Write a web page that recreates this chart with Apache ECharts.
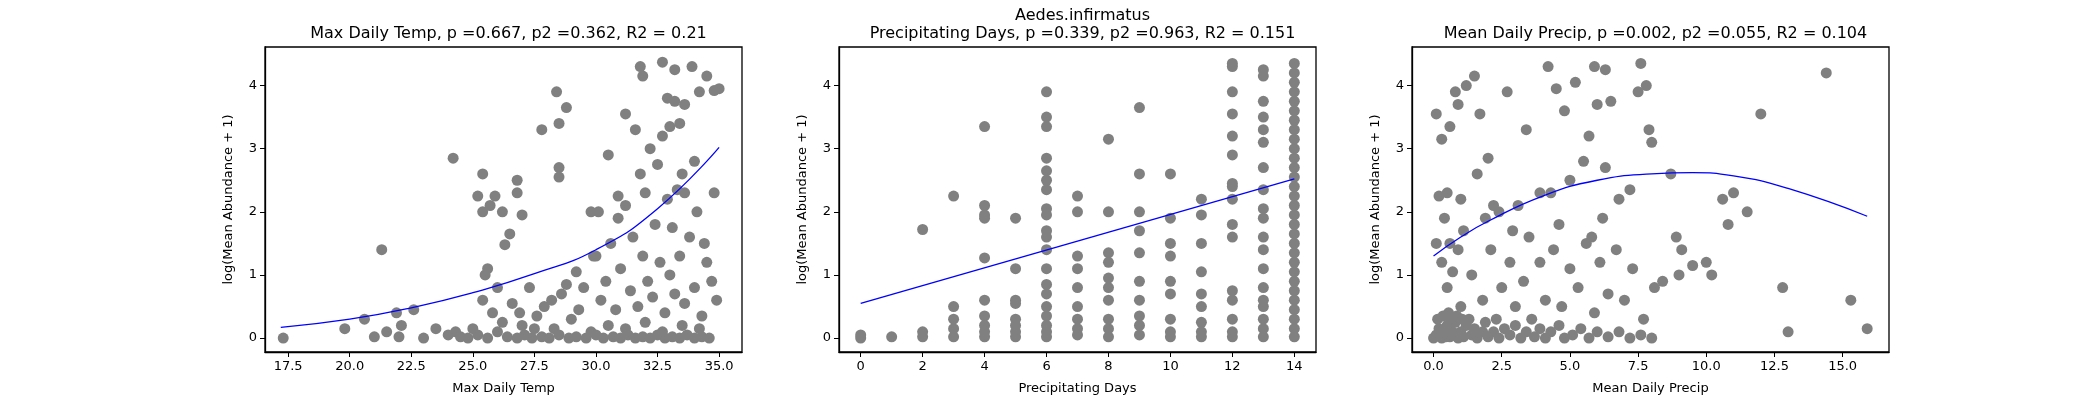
<!DOCTYPE html>
<html><head><meta charset="utf-8">
<script src="https://cdn.jsdelivr.net/npm/echarts@6/dist/echarts.min.js"></script>
<style>html,body{margin:0;padding:0;background:#fff}#c{width:2100px;height:400px}</style>
</head><body><div id="c"></div>
<script>
const suptitle = "Aedes.infirmatus";
const titles = ["Max Daily Temp, p =0.667, p2 =0.362, R2 = 0.21",
  "Precipitating Days, p =0.339, p2 =0.963, R2 = 0.151",
  "Mean Daily Precip, p =0.002, p2 =0.055, R2 = 0.104"];
const xNames = ["Max Daily Temp", "Precipitating Days", "Mean Daily Precip"];
const yName = "log(Mean Abundance + 1)";
const xTicks1 = [17.5, 20.0, 22.5, 25.0, 27.5, 30.0, 32.5, 35.0];
const xTicks2 = [0, 2, 4, 6, 8, 10, 12, 14];
const xTicks3 = [0.0, 2.5, 5.0, 7.5, 10.0, 12.5, 15.0];
const yTicks = [0, 1, 2, 3, 4];

const tempPoints = [[17.3,0],[19.8,0.15],[20.6,0.3],[21.5,0.1],[21.9,0.4],[22.1,0.2],[22.6,0.45],[23.5,0.15],[21.0,0.02],[22.0,0.02],[23.0,0],[24.0,0.05],[24.5,0.02],[24.8,0],[25.2,0.05],[25.6,0],[26.0,0.1],[26.4,0.02],[26.8,0],[27.1,0.05],[27.4,0],[27.8,0.02],[28.1,0],[28.5,0.05],[28.9,0],[29.2,0.02],[29.6,0],[30.0,0.05],[30.3,0],[30.7,0.02],[31.0,0],[31.3,0.05],[31.6,0],[31.9,0.02],[32.2,0],[32.5,0.05],[32.8,0],[33.1,0.02],[33.4,0],[33.7,0.05],[34.0,0],[34.3,0.02],[34.6,0],[25.0,0.15],[26.2,0.25],[27.0,0.2],[27.6,0.35],[28.3,0.15],[29.0,0.3],[29.8,0.1],[30.5,0.2],[31.2,0.15],[32.0,0.25],[32.7,0.1],[33.5,0.2],[34.2,0.15],[24.3,0.1],[25.8,0.4],[26.6,0.55],[27.3,0.8],[27.9,0.5],[28.6,0.7],[29.3,0.45],[25.4,0.6],[25.5,1.0],[25.6,1.1],[26.0,0.8],[26.9,0.4],[28.2,0.6],[28.8,0.85],[29.5,0.8],[30.2,0.6],[30.4,0.9],[30.8,0.45],[31.0,1.1],[31.4,0.75],[31.7,0.5],[31.9,1.3],[32.1,0.9],[32.3,0.65],[32.6,1.2],[32.8,0.4],[33.0,1.0],[33.2,0.7],[33.4,1.3],[33.6,0.55],[33.8,1.6],[34.0,0.8],[34.3,0.35],[34.5,1.2],[34.7,0.9],[31.5,1.6],[32.4,1.8],[33.1,1.75],[30.6,1.5],[29.9,1.3],[30.1,2.0],[31.2,2.1],[32.0,2.3],[32.9,2.2],[33.3,2.35],[33.6,2.3],[34.1,2.0],[34.4,1.5],[31.8,2.6],[32.5,2.75],[33.5,2.6],[34.0,2.8],[32.2,3.0],[32.7,3.2],[33.0,3.35],[33.4,3.4],[31.6,3.3],[32.9,3.8],[33.2,3.75],[33.6,3.7],[34.2,3.9],[35.0,3.95],[34.8,3.92],[31.8,4.3],[31.9,4.15],[32.7,4.37],[33.2,4.25],[33.9,4.3],[34.5,4.15],[31.2,3.55],[30.5,2.9],[25.2,2.25],[24.2,2.85],[25.4,2.6],[25.4,2.0],[25.7,2.1],[25.9,2.25],[26.2,2.0],[26.3,1.48],[26.5,1.65],[26.8,2.5],[27.0,1.95],[26.8,2.3],[27.8,3.3],[28.4,3.9],[28.5,3.4],[28.8,3.65],[28.5,2.7],[28.5,2.55],[29.8,2.0],[30.0,1.3],[30.9,2.25],[21.3,1.4],[27.5,0.15],[29.2,1.05],[30.9,1.9],[34.8,2.3],[34.9,0.6]];
const tempFit = [[17.2,0.17],[20,0.3],[22.5,0.48],[25,0.72],[27.5,1.02],[30,1.4],[32.5,2.05],[35,3.02]];

const daysColumns = {
 0:[0,0.05],1:[0.02],2:[1.72,0.1,0.02],3:[2.25,0.5,0.3,0.15,0.02],
 4:[3.35,2.1,1.95,1.9,1.27,0.6,0.35,0.2,0.1,0.02],
 5:[1.9,1.1,0.6,0.55,0.3,0.2,0.1,0.02],
 6:[3.9,3.5,3.35,2.85,2.65,2.5,2.35,2.05,1.95,1.7,1.6,1.4,1.1,0.85,0.7,0.5,0.35,0.2,0.1,0.02],
 7:[2.25,2.0,1.3,1.1,0.8,0.5,0.3,0.15,0.05],
 8:[3.15,2.0,1.35,1.2,0.95,0.8,0.6,0.3,0.15,0.02],
 9:[3.65,2.6,2.0,1.7,1.35,0.9,0.6,0.35,0.2,0.05],
 10:[2.6,1.9,1.5,1.3,0.9,0.7,0.3,0.1,0.02],
 11:[2.2,1.95,1.5,1.05,0.7,0.5,0.25,0.1,0.02],
 12:[4.35,4.3,3.9,3.55,3.2,2.9,2.45,2.4,2.2,1.8,1.6,0.75,0.6,0.3,0.1,0.02],
 13:[4.25,4.15,3.75,3.5,3.3,3.1,2.7,2.35,2.05,1.9,1.6,1.4,1.1,0.8,0.6,0.5,0.3,0.15,0.02],
 14:[4.35,4.2,4.05,3.9,3.75,3.6,3.45,3.3,3.15,3.0,2.85,2.7,2.55,2.4,2.25,2.1,1.95,1.8,1.65,1.5,1.35,1.2,1.05,0.9,0.75,0.6,0.45,0.3,0.15,0.02]
};
const daysFit = [[0,0.55],[14,2.52]];

const precipPoints = [[0.1,3.55],[0.3,3.15],[0.5,2.3],[0.2,2.25],[0.6,3.35],[0.8,3.9],[0.9,3.7],[1.0,2.2],[1.2,4.0],[1.5,4.15],[1.7,3.55],[1.6,2.6],[2.0,2.85],[2.4,2.0],[2.2,2.1],[2.7,3.9],[3.1,2.1],[3.4,3.3],[3.9,2.3],[4.2,4.3],[4.5,3.95],[4.3,2.3],[4.8,3.6],[5.0,2.5],[5.2,4.05],[5.5,2.8],[5.7,3.2],[5.9,4.3],[6.3,4.25],[6.0,3.7],[6.5,3.75],[6.3,2.7],[6.8,2.2],[7.2,2.35],[7.5,3.9],[7.6,4.35],[7.8,4.0],[7.9,3.3],[8.0,3.1],[8.7,2.6],[8.9,1.6],[9.1,1.4],[9.5,1.15],[10.0,1.2],[10.2,1.0],[10.6,2.2],[10.8,1.8],[11.0,2.3],[11.5,2.0],[12.0,3.55],[12.8,0.8],[13.0,0.1],[14.4,4.2],[15.3,0.6],[15.9,0.15],[8.4,0.9],[9.0,1.0],
[0.1,1.5],[0.3,1.2],[0.5,0.8],[0.6,1.5],[0.7,1.05],[0.9,1.4],[1.0,0.5],[1.3,0.3],[1.4,1.0],[1.8,0.6],[2.1,1.4],[2.3,0.3],[2.5,0.8],[2.8,1.2],[3.0,0.5],[3.3,0.9],[3.6,0.3],[3.9,1.2],[4.1,0.6],[4.4,1.4],[4.7,0.5],[5.0,1.1],[5.3,0.8],[5.6,1.5],[5.9,0.4],[6.1,1.2],[6.4,0.7],[6.7,1.4],[7.0,0.6],[7.3,1.1],[7.7,0.3],[8.1,0.8],[6.2,1.9],[5.8,1.6],[4.6,1.8],[3.5,1.6],[2.9,1.7],[1.9,1.9],[1.1,1.7],[0.4,1.9],
[0,0],[0.1,0.05],[0.2,0.15],[0.3,0],[0.4,0.1],[0.5,0.2],[0.6,0.02],[0.7,0.1],[0.8,0.25],[0.9,0],[1.0,0.1],[1.1,0.02],[1.2,0.2],[1.4,0.05],[1.5,0.15],[1.6,0],[1.8,0.1],[1.9,0.25],[2.0,0.02],[2.2,0.1],[2.4,0],[2.6,0.15],[2.8,0.05],[3.0,0.2],[3.2,0],[3.4,0.1],[3.7,0.02],[3.9,0.15],[4.1,0],[4.3,0.1],[4.6,0.2],[4.8,0],[5.1,0.05],[5.4,0.15],[5.7,0],[6.0,0.1],[6.4,0.02],[6.8,0.1],[7.2,0],[7.6,0.05],[8.0,0],[0.15,0.3],[0.35,0.35],[0.55,0.4],[0.25,0.05],[0.45,0.02],[0.65,0.3],[0.85,0.35],[1.05,0.3]];
const precipFit = [[0,1.3],[1,1.6],[2,1.85],[4,2.25],[6,2.5],[8,2.6],[9.5,2.62],[11,2.57],[13,2.37],[15.9,1.93]];

const daysPoints = [];
Object.keys(daysColumns).forEach(k => daysColumns[k].forEach(v => daysPoints.push([+k, v])));

const lefts = [265, 839, 1412], W = 477, TOP = 47, H = 309;
const xr = [[16.56, 35.93], [-0.7, 14.7], [-0.79, 16.7]];
const xt = [xTicks1, xTicks2, xTicks3];
const fmt = [v => v.toFixed(1), v => String(v), v => v.toFixed(1)];
const font = 'DejaVu Sans';
const grids = [], xAxes = [], yAxes = [], series = [], titleArr = [];
const scat = [tempPoints, daysPoints, precipPoints], fits = [tempFit, daysFit, precipFit];
for (let i = 0; i < 3; i++) {
  grids.push({left: lefts[i], top: TOP, width: W, height: H, show: true, borderColor: '#000', borderWidth: 1.3, backgroundColor: '#fff'});
  xAxes.push({type: 'value', gridIndex: i, min: xr[i][0], max: xr[i][1],
    name: xNames[i], nameLocation: 'middle', nameGap: 30, nameTextStyle: {fontFamily: font, fontSize: 13, color: '#000'},
    axisLine: {show: true, onZero: false, lineStyle: {color: '#000', width: 1.3}}, splitLine: {show: false},
    axisTick: {show: true, inside: false, length: 5, lineStyle: {color: '#000'}, customValues: xt[i]},
    axisLabel: {fontFamily: font, fontSize: 13, color: '#000', margin: 8, customValues: xt[i], formatter: fmt[i]}});
  yAxes.push({type: 'value', gridIndex: i, min: -0.22, max: 4.61,
    name: yName, nameLocation: 'middle', nameGap: 30, nameTextStyle: {fontFamily: font, fontSize: 13, color: '#000'},
    axisLine: {show: true, onZero: false, lineStyle: {color: '#000', width: 1.3}}, splitLine: {show: false},
    axisTick: {show: true, inside: false, length: 5, lineStyle: {color: '#000'}, customValues: yTicks},
    axisLabel: {fontFamily: font, fontSize: 13, color: '#000', margin: 8, customValues: yTicks, formatter: v => String(v)}});
  series.push({type: 'scatter', xAxisIndex: i, yAxisIndex: i, data: scat[i], symbolSize: 11, itemStyle: {color: '#808080', opacity: 1}, z: 2});
  series.push({type: 'line', xAxisIndex: i, yAxisIndex: i, data: fits[i], smooth: true, symbol: 'none', lineStyle: {color: '#0000ff', width: 1.3}, z: 3});
  titleArr.push({text: titles[i], left: lefts[i] + W / 2, top: 21, textAlign: 'center', textStyle: {fontFamily: font, fontSize: 16, fontWeight: 'normal', color: '#000'}});
}
titleArr.push({text: suptitle, left: lefts[1] + W / 2, top: 3, textAlign: 'center', textStyle: {fontFamily: font, fontSize: 16, fontWeight: 'normal', color: '#000'}});
const chart = echarts.init(document.getElementById('c'));
chart.setOption({animation: false, backgroundColor: '#fff', title: titleArr, grid: grids, xAxis: xAxes, yAxis: yAxes, series: series});
</script></body></html>
